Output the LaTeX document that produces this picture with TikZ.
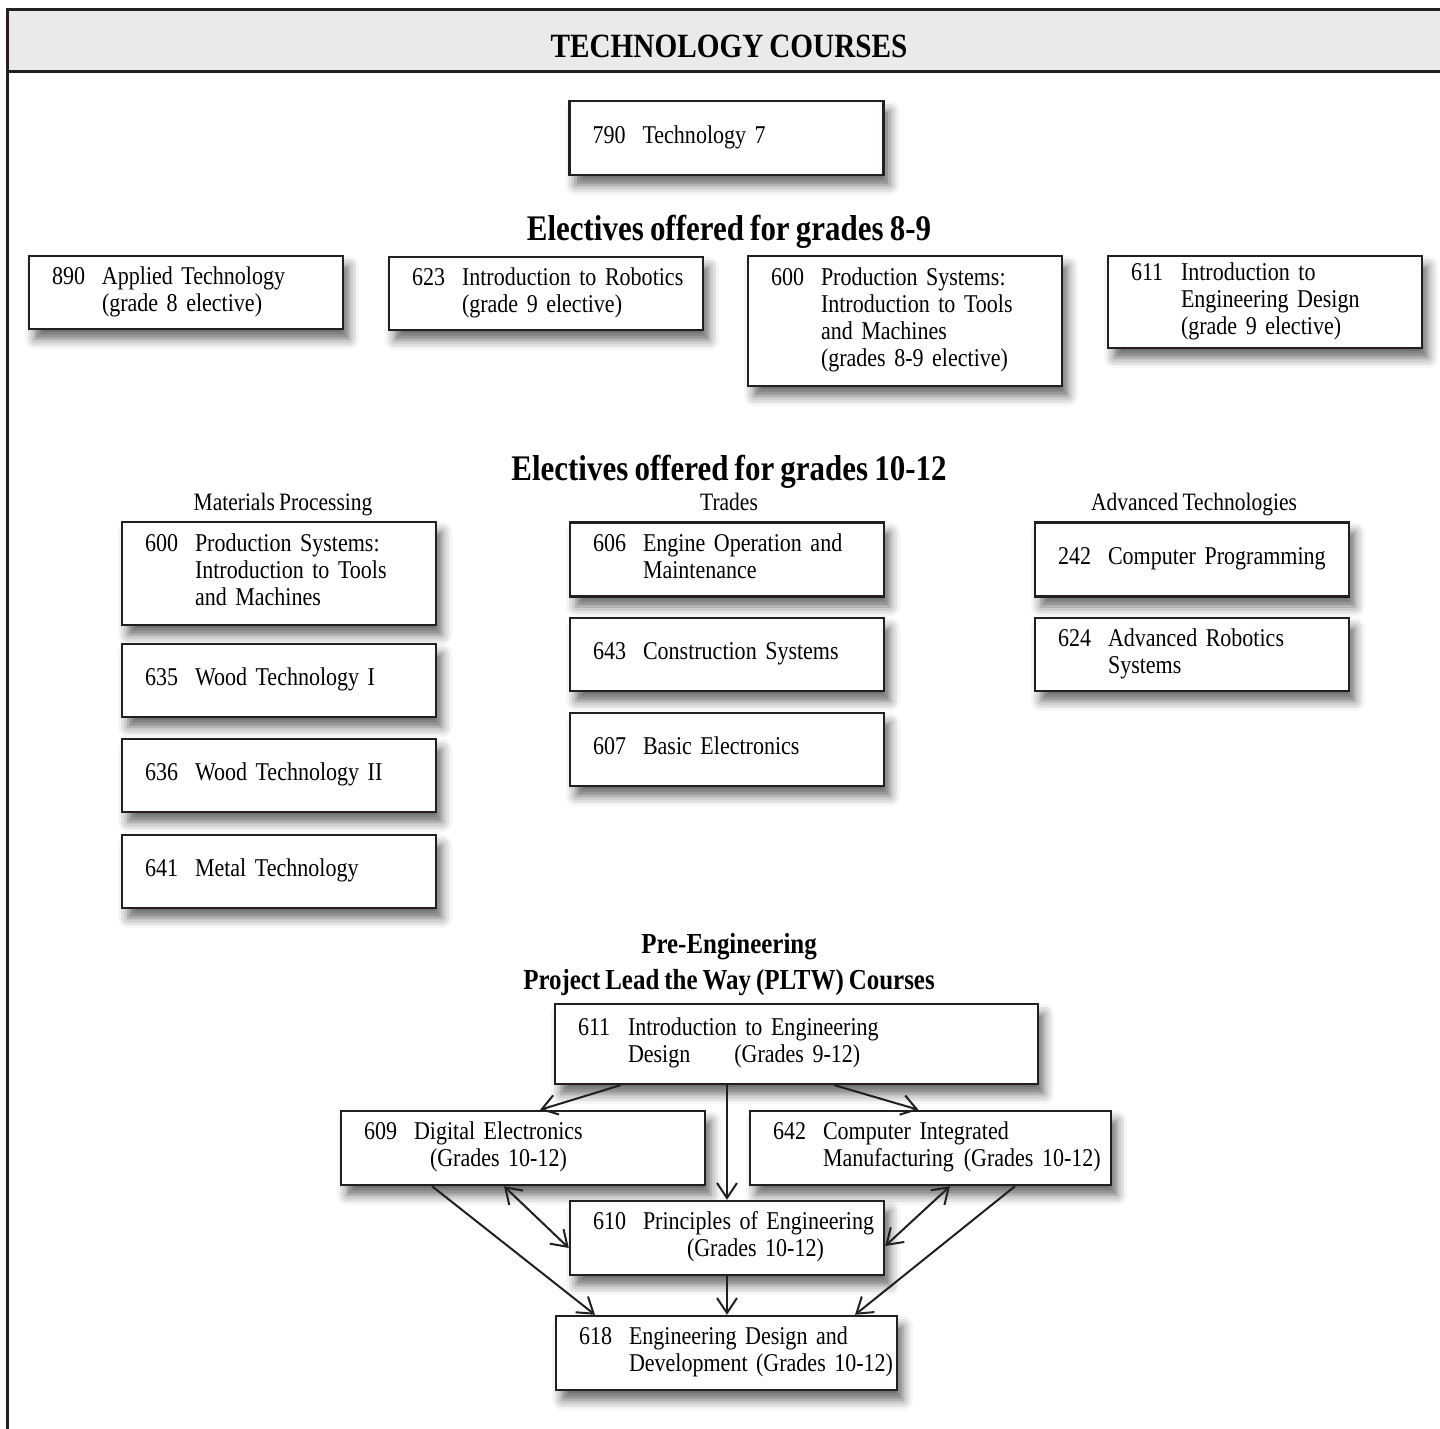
\documentclass[tikz,border=0pt]{standalone}
\usepackage{fontspec}
\setmainfont{Liberation Serif}[FakeStretch=0.86,WordSpace=0.8]
\usetikzlibrary{arrows.meta,shadows.blur}
\definecolor{hdrgray}{HTML}{EAEAEB}
\definecolor{ink}{HTML}{231F20}
\newcommand\crs[2]{\makebox[25pt][l]{#1}\begin{tabular}[t]{@{}l@{}}#2\end{tabular}}

\begin{document}
\begin{tikzpicture}[x=0.5pt,y=-0.5pt,
  crs/.style={draw=ink,line width=1.2pt,fill=white,align=left,inner xsep=11.5pt,inner ysep=0pt,
    text width=#1,minimum height=37pt,font=\fontsize{12.8}{13.5}\selectfont,
    blur shadow={shadow xshift=3pt,shadow yshift=-5pt,shadow opacity=60,shadow blur radius=5pt}},
  crs/.default=134pt,
  head/.style={font=\fontsize{18}{20}\selectfont\bfseries,anchor=base},
  grp/.style={font=\fontsize{12.5}{14}\selectfont,anchor=base},
  conn/.style={draw=ink,line width=1pt,-{Straight Barb[length=7.5pt,width=10pt]}},
  both/.style={draw=ink,line width=1pt,{Straight Barb[length=7.5pt,width=10pt]}-{Straight Barb[length=7.5pt,width=10pt]}}]
\useasboundingbox (0,0) rectangle (1440,1429);

% frame
\fill[hdrgray] (7,10) rectangle (1450,72);
\draw[ink,line width=1.5pt] (1450,10) -- (7,10) -- (7,1440);
\draw[ink,line width=1.5pt] (7,72) -- (1450,72);
\node[font=\fontsize{17}{20}\selectfont\bfseries,anchor=base] (hdr) at (729,58) {TECHNOLOGY COURSES};

\node[crs] (t790) at (726.5,138) {\crs{790}{Technology 7}};

% grades 8-9
\node[head] (el89) at (729,240) {Electives offered for grades 8-9};
\node[crs,minimum height=36.5pt] (a890) at (186,292.5) {\crs{890}{Applied Technology\\(grade 8 elective)}};
\node[crs,minimum height=36.5pt] (r623) at (546,293.5) {\crs{623}{Introduction to Robotics\\(grade 9 elective)}};
\node[crs,minimum height=65pt] (p600) at (905,321) {\crs{600}{Production Systems:\\Introduction to Tools\\and Machines\\(grades 8-9 elective)}};
\node[crs,minimum height=46pt] (e611) at (1265,302) {\crs{611}{Introduction to\\Engineering Design\\(grade 9 elective)}};

% grades 10-12
\node[head] (el1012) at (729,480) {Electives offered for grades 10-12};
\node[grp] (lmp) at (283,510) {Materials Processing};
\node[grp] (ltr) at (729,510) {Trades};
\node[grp] (lat) at (1194,510) {Advanced Technologies};

\node[crs,minimum height=51.5pt] (m600) at (279,573.5) {\crs{600}{Production Systems:\\Introduction to Tools\\and Machines}};
\node[crs,minimum height=36.5pt] (w635) at (279,680.5) {\crs{635}{Wood Technology I}};
\node[crs,minimum height=36.5pt] (w636) at (279,775.5) {\crs{636}{Wood Technology II}};
\node[crs,minimum height=36.5pt] (m641) at (279,871.5) {\crs{641}{Metal Technology}};

\node[crs] (e606) at (727,559.5) {\crs{606}{Engine Operation and\\Maintenance}};
\node[crs,minimum height=36.5pt] (c643) at (727,654.5) {\crs{643}{Construction Systems}};
\node[crs,minimum height=36.5pt] (b607) at (727,749.5) {\crs{607}{Basic Electronics}};

\node[crs] (c242) at (1192,559.5) {\crs{242}{Computer Programming}};
\node[crs,minimum height=36.5pt] (r624) at (1192,654.5) {\crs{624}{Advanced Robotics\\Systems}};

% PLTW
\node[font=\fontsize{14.5}{18}\selectfont\bfseries,align=center] (pre) at (729,965) {Pre-Engineering\\Project Lead the Way (PLTW) Courses};
\node[crs=218.5pt,minimum height=40pt] (i611) at (796.5,1044) {\crs{611}{Introduction to Engineering\\Design\hspace{22pt}(Grades 9-12)}};
\node[crs=159pt] (d609) at (523,1148) {\crs{609}{Digital Electronics\\\hspace*{8pt}(Grades 10-12)}};
\node[crs=157.5pt] (c642) at (930.5,1148) {\crs{642}{Computer Integrated\\Manufacturing\hspace{5pt}(Grades 10-12)}};
\node[crs] (p610) at (727,1238) {\crs{610}{Principles of Engineering\\\hspace*{22pt}(Grades 10-12)}};
\node[crs=147.5pt] (e618) at (726.5,1353) {\crs{618}{Engineering Design and\\Development (Grades 10-12)}};

\draw[conn] ([xshift=-88pt]i611.south) -- ([xshift=8.5pt]d609.north);
\draw[conn] ([xshift=19pt]i611.south) -- ([xshift=-6pt]c642.north);
\draw[conn] (p610.north |- i611.south) -- (p610.north);
\draw[both] ([xshift=-9.5pt]d609.south) -- ([yshift=-5pt]p610.west);
\draw[both] ([xshift=9.75pt]c642.south) -- ([yshift=-4pt]p610.east);
\draw[conn] ([xshift=-45.5pt]d609.south) -- ([xshift=-65.75pt]e618.north);
\draw[conn] ([xshift=42.25pt]c642.south) -- ([xshift=64.25pt]e618.north);
\draw[conn] (p610.south) -- (e618.north -| p610.south);
\end{tikzpicture}
\end{document}
